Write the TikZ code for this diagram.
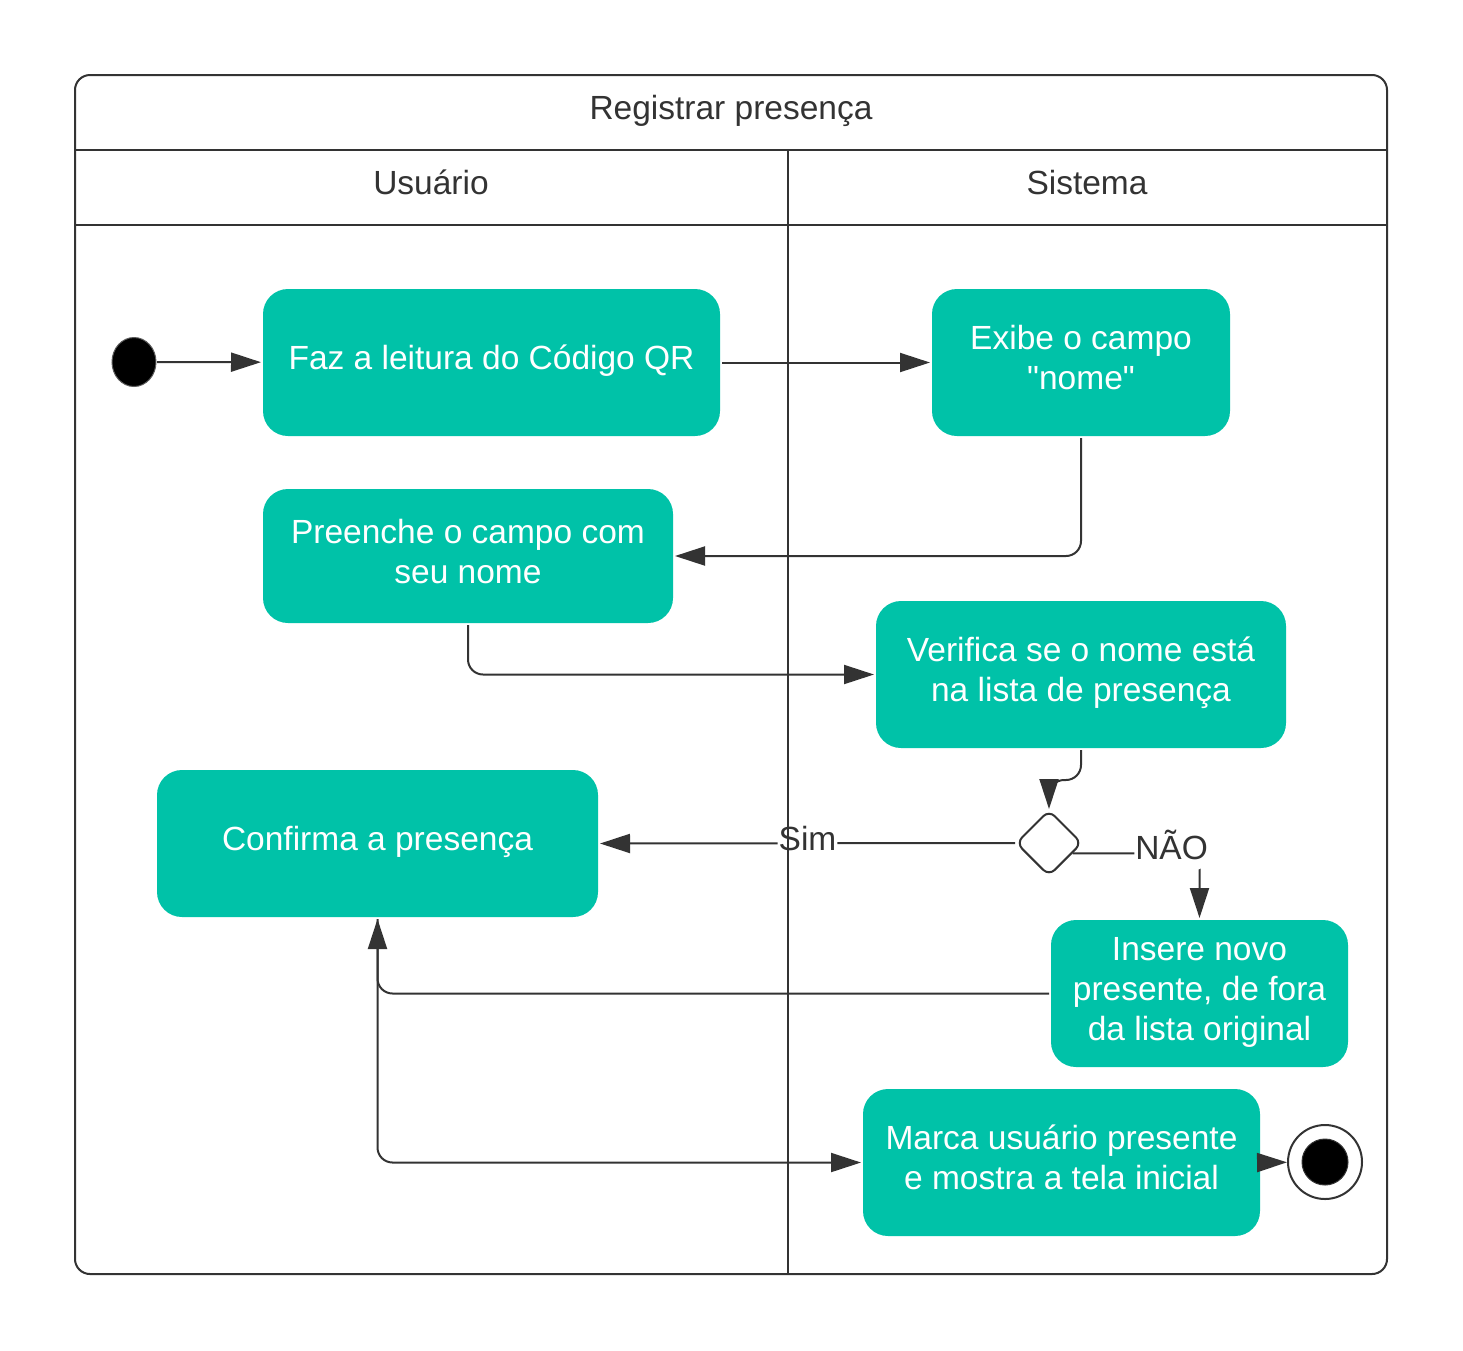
\documentclass[tikz,border=0pt]{standalone}
\usepackage{fontspec}
\setmainfont{Liberation Sans}
\usetikzlibrary{arrows.meta,shapes.geometric}
\definecolor{teal1}{HTML}{00C2A8}
\definecolor{ink}{HTML}{333333}
\begin{document}
\begin{tikzpicture}[x=1pt,y=-1pt,
  every node/.style={font=\fontsize{33.5}{40}\selectfont},
  act/.style={fill=teal1, text=white, rounded corners=25pt, align=center, inner sep=0pt, outer sep=2pt, text depth=10pt},
  conn/.style={draw=ink, line width=2pt, -{Triangle[length=30pt,width=19pt]}, rounded corners=15pt},
  lbl/.style={text=ink},
  edgelbl/.style={text=ink, fill=white, inner sep=1pt, text depth=10pt},
  frameline/.style={draw=ink, line width=2pt}
]
\useasboundingbox (0,0) rectangle (1463,1350);
% frame
\draw[frameline, rounded corners=15pt] (75,75) rectangle (1387,1274);
\draw[frameline] (75,150) -- (1387,150);
\draw[frameline] (75,225) -- (1387,225);
\node[lbl, anchor=base] (title) at (731,119) {Registrar presença};
\node[lbl, anchor=base] (lane1) at (431,194) {Usuário};
\node[lbl, anchor=base] (lane2) at (1087,194) {Sistema};

% start / end
\node[ellipse, fill=black, draw=ink!80, line width=1pt, minimum width=44pt, minimum height=49pt, inner sep=0pt, outer sep=1pt] (start) at (134,362) {};
\node[circle, draw=ink, line width=2pt, fill=white, minimum size=74pt, inner sep=0pt, outer sep=1pt] (end) at (1325,1162) {};
\node[circle, fill=black, draw=ink, line width=1pt, minimum size=46pt, inner sep=0pt] (endin) at (end) {};

% activities
\node[act, minimum width=457pt, minimum height=147pt] (A) at (491.5,362.5) {Faz a leitura do Código QR};
\node[act, minimum width=298pt, minimum height=147pt] (B) at (1081,362.5) {Exibe o campo\\\textquotedbl nome\textquotedbl};
\node[act, minimum width=410pt, minimum height=134pt] (C) at (468,556) {Preenche o campo com\\seu nome};
\node[act, minimum width=410pt, minimum height=147pt] (D) at (1081,674.5) {Verifica se o nome está\\na lista de presença};
\node[diamond, draw=ink, line width=2pt, fill=white, rounded corners=8pt, minimum width=66pt, minimum height=66pt, inner sep=0pt, outer sep=1pt] (dia) at (1049,843) {};
\node[act, minimum width=441pt, minimum height=147pt] (E) at (377.5,843.5) {Confirma a presença};
\node[act, minimum width=297pt, minimum height=147pt] (F) at (1199.5,993.5) {Insere novo\\presente, de fora\\da lista original};
\node[act, minimum width=397pt, minimum height=147pt] (G) at (1061.5,1162.5) {Marca usuário presente\\e mostra a tela inicial};

% connectors
\draw[conn] (start) -- (A);
\draw[conn] (A) -- (B);
\draw[conn] (B.south) |- (C.east);
\draw[conn] (C.south) |- (D.west);
\draw[conn] (D.south) -- ++(0,30) -| (dia.north);
\draw[conn] (dia.west) -- node[edgelbl] (sim) {Sim} (E.east);
\draw[conn] (dia.-24) -| node[edgelbl, pos=0.39, yshift=4pt] (nao) {NÃO} (F.north);
\draw[conn] (F.west) -| (E.south);
\draw[conn] (E.south) |- (G.west);
\draw[conn] (G.east) -- (end);

% lane divider (drawn on top)
\draw[frameline] (788,150) -- (788,1274);
\end{tikzpicture}
\end{document}
